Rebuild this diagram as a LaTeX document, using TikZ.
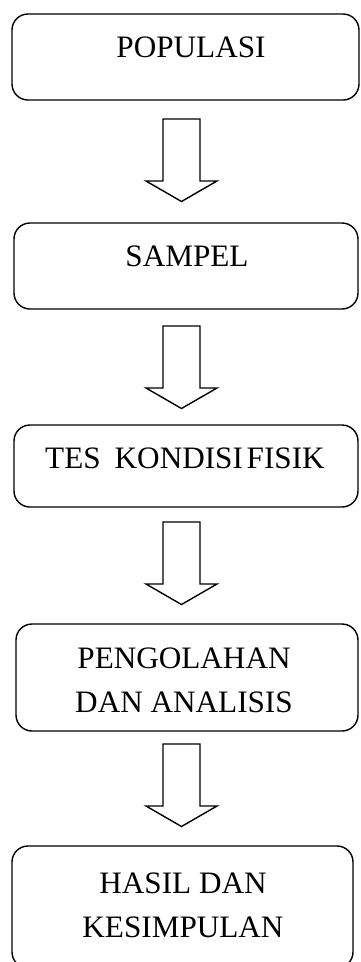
\documentclass[tikz,border=0pt]{standalone}
\usepackage{fontspec}
\setmainfont{Liberation Serif}
\begin{document}
\begin{tikzpicture}[x=1pt,y=-1pt,
  stagebox/.style={draw, line width=1.4pt, rounded corners=16pt, inner sep=0pt},
  stagetext/.style={font=\fontsize{31.2}{44}\selectfont, inner sep=0pt, anchor=base, align=center},
  blockarrow/.style={draw, line width=1.4pt, fill=white, line join=miter}]
\useasboundingbox (0,0) rectangle (360,962);

% stage boxes
\node[stagebox, minimum width=347pt, minimum height=86pt]  (s1) at (185.5,57) {};
\node[stagebox, minimum width=344pt, minimum height=86pt]  (s2) at (186,266) {};
\node[stagebox, minimum width=344pt, minimum height=82pt]  (s3) at (186,466) {};
\node[stagebox, minimum width=342pt, minimum height=107pt] (s4) at (187,677.5) {};
\node[stagebox, minimum width=341pt, minimum height=122pt] (s5) at (182.5,907) {};

% stage labels (base anchor = baseline of the last line)
\node[stagetext] (t1) at (191,57) {POPULASI};
\node[stagetext] (t2) at (187,266) {SAMPEL};
\node[stagetext] (t3) at (185,468) {TES\hspace{0.45em}KONDISI\hspace{0.12em}FISIK};
\node[stagetext] (t4) at (184,712) {PENGOLAHAN\\DAN ANALISIS};
\node[stagetext] (t5) at (183,937) {HASIL DAN\\KESIMPULAN};

% hollow block arrows between the stages
\foreach \name/\top in {a1/119, a2/326, a3/522, a4/744} {
  \coordinate (\name) at (181.5,\top);
  \draw[blockarrow] (\name) ++(-18.5,0) -- ++(0,62) -- ++(-17,0)
    -- ++(35.5,20.5) -- ++(35.5,-20.5) -- ++(-17,0) -- ++(0,-62) -- cycle;
}
\end{tikzpicture}
\end{document}
